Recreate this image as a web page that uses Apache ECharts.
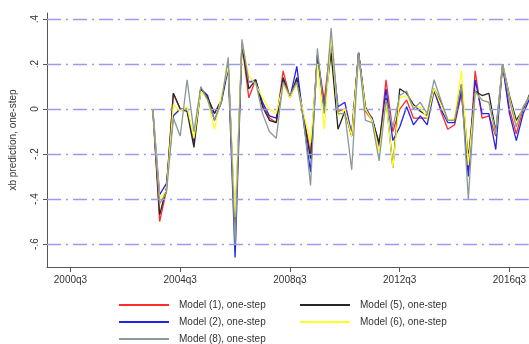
<!DOCTYPE html>
<html>
<head>
<meta charset="utf-8">
<script src="https://cdn.jsdelivr.net/npm/echarts@6/dist/echarts.min.js"></script>
<style>
html,body{margin:0;padding:0;background:#fff;}
#c{width:529px;height:344px;}
</style>
</head>
<body>
<div id="c"></div>
<script>
// Quarters (x) — 2003q3 .. 2017q2
const quarters = ["2003q3","2003q4",
"2004q1","2004q2","2004q3","2004q4","2005q1","2005q2","2005q3","2005q4",
"2006q1","2006q2","2006q3","2006q4","2007q1","2007q2","2007q3","2007q4",
"2008q1","2008q2","2008q3","2008q4","2009q1","2009q2","2009q3","2009q4",
"2010q1","2010q2","2010q3","2010q4","2011q1","2011q2","2011q3","2011q4",
"2012q1","2012q2","2012q3","2012q4","2013q1","2013q2","2013q3","2013q4",
"2014q1","2014q2","2014q3","2014q4","2015q1","2015q2","2015q3","2015q4",
"2016q1","2016q2","2016q3","2016q4","2017q1","2017q2"];

const model1 = [0,-0.50,-0.36,0.07,0.00,0.00,-0.15,0.09,0.05,-0.02,
0.04,0.19,-0.52,0.29,0.05,0.13,0.02,-0.04,-0.06,0.17,
0.05,0.13,-0.03,-0.20,0.23,0.04,0.30,-0.01,0.00,-0.12,
0.25,-0.01,-0.05,-0.17,0.13,-0.10,0.00,0.04,-0.04,-0.04,
-0.04,0.09,-0.01,-0.09,-0.07,0.07,-0.28,0.17,-0.04,-0.03,
-0.12,0.19,0.00,-0.11,0.00,0.06];
const model2 = [0,-0.38,-0.33,-0.03,0.00,0.00,-0.14,0.09,0.06,-0.05,
0.03,0.18,-0.66,0.29,0.12,0.13,0.03,-0.03,-0.04,0.13,
0.05,0.19,-0.06,-0.28,0.24,0.00,0.30,0.01,0.03,-0.11,
0.25,0.00,-0.04,-0.16,0.09,-0.14,-0.08,0.01,-0.07,-0.03,
-0.07,0.08,0.00,-0.06,-0.06,0.08,-0.30,0.13,-0.02,-0.02,
-0.18,0.20,-0.02,-0.14,-0.02,0.05];
const model5 = [0,-0.47,-0.35,0.07,0.00,-0.01,-0.17,0.09,0.05,-0.02,
0.04,0.20,-0.55,0.29,0.09,0.13,0.01,-0.05,-0.06,0.14,
0.05,0.14,-0.04,-0.22,0.24,0.00,0.25,-0.09,-0.01,-0.12,
0.25,0.01,-0.05,-0.15,0.05,-0.26,0.09,0.07,0.02,-0.01,
-0.03,0.09,0.03,-0.05,-0.05,0.11,-0.22,0.08,0.06,0.07,
-0.10,0.20,0.06,-0.05,0.00,0.07];
const model6 = [0,-0.40,-0.36,0.02,-0.01,0.01,-0.13,0.08,0.04,-0.09,
0.06,0.19,-0.48,0.30,0.15,0.11,0.05,0.00,-0.02,0.11,
0.05,0.11,-0.02,-0.15,0.20,-0.09,0.32,-0.03,0.00,-0.12,
0.24,0.00,-0.05,-0.19,0.04,-0.26,0.05,0.06,0.01,0.01,
-0.04,0.09,0.02,-0.05,-0.04,0.17,-0.25,0.07,0.04,0.03,
-0.11,0.20,0.05,-0.07,0.01,0.06];
const model8 = [0,-0.42,-0.37,-0.04,-0.12,0.13,-0.10,0.10,0.04,-0.05,
0.03,0.23,-0.60,0.31,0.12,0.12,-0.02,-0.10,-0.13,0.12,
0.06,0.12,-0.05,-0.34,0.27,-0.02,0.36,-0.02,-0.02,-0.27,
0.25,-0.05,-0.06,-0.23,0.04,-0.08,0.06,0.08,0.00,0.03,
-0.02,0.13,0.04,-0.05,-0.05,0.11,-0.40,0.08,0.04,0.03,
-0.11,0.20,0.04,-0.08,0.01,0.06];

const xTickLabels = ["2000q3","2004q3","2008q3","2012q3","2016q3"];
const yTicks = [-0.6,-0.4,-0.2,0,0.2,0.4];
const seriesNames = ["Model (1), one-step","Model (2), one-step","Model (5), one-step","Model (6), one-step","Model (8), one-step"];

// quarter string -> index (0 = 2000q3)
function qIndex(s){ const y=+s.slice(0,4), q=+s.slice(5); return (y-2000)*4 + (q-3); }
function qLabel(k){ const t=Math.round(k)+2; return (2000+Math.floor(t/4))+"q"+((t%4)+1); }
const xTickVals = xTickLabels.map(qIndex);
function pairs(arr){ return arr.map((v,i)=>[qIndex(quarters[i]), v]); }
function fmtY(v){ if (Math.abs(v)<1e-9) return "0"; return v.toFixed(1).replace("0.","."); }

const colors = ["#ff2a2a","#2222ee","#262626","#ffff22","#8a9a98"];
const data = [model1,model2,model5,model6,model8];

const chart = echarts.init(document.getElementById('c'), null, {renderer:'canvas'});
const font = "'Liberation Sans', Arial, sans-serif";

const series = [{
  type:'line', data:[], z:1, silent:true,
  markLine:{
    silent:true, symbol:'none', animation:false,
    label:{show:false},
    lineStyle:{type:[14,5,2,5], color:'#9a9af0', width:1.4},
    data: yTicks.map(v=>({yAxis:v}))
  }
}];
data.forEach((arr,i)=>{
  series.push({
    name: seriesNames[i], type:'line', data: pairs(arr),
    showSymbol:false, symbol:'none', z:2+i, clip:true,
    lineStyle:{color:colors[i], width:1.3},
    itemStyle:{color:colors[i]},
    animation:false
  });
});

const legendCommon = {
  orient:'vertical', top:299, height:80, itemWidth:50, itemHeight:2, itemGap:5,
  icon:'rect', padding:0,
  textStyle:{fontFamily:font, fontSize:10, color:'#333', lineHeight:12, padding:[0,0,0,5]}
};

chart.setOption({
  backgroundColor:'#ffffff',
  animation:false,
  grid:{left:43, right:0, top:13, bottom:77},
  xAxis:{
    type:'value', min:-3.42, max:66.8,
    axisLine:{show:true, onZero:false, lineStyle:{color:'#555', width:1}},
    axisTick:{show:true, length:5, lineStyle:{color:'#555'}, customValues:xTickVals},
    axisLabel:{show:true, customValues:xTickVals, formatter:v=>qLabel(v),
      fontFamily:font, fontSize:10, color:'#333', margin:8},
    splitLine:{show:false}
  },
  yAxis:{
    type:'value', min:-0.702, max:0.427,
    name:'xb prediction, one-step', nameLocation:'middle', nameGap:29,
    nameTextStyle:{fontFamily:font, fontSize:10, color:'#333'},
    axisLine:{show:true, onZero:false, lineStyle:{color:'#555', width:1}},
    axisTick:{show:true, length:4, lineStyle:{color:'#555'}, customValues:yTicks},
    axisLabel:{show:true, customValues:yTicks, formatter:v=>fmtY(v), rotate:90,
      fontFamily:font, fontSize:10, color:'#333', margin:7},
    splitLine:{show:false}
  },
  legend:[
    Object.assign({}, legendCommon, {left:119, data:[seriesNames[0],seriesNames[1],seriesNames[4]]}),
    Object.assign({}, legendCommon, {left:300, data:[seriesNames[2],seriesNames[3]]})
  ],
  series: series
});
</script>
</body>
</html>
